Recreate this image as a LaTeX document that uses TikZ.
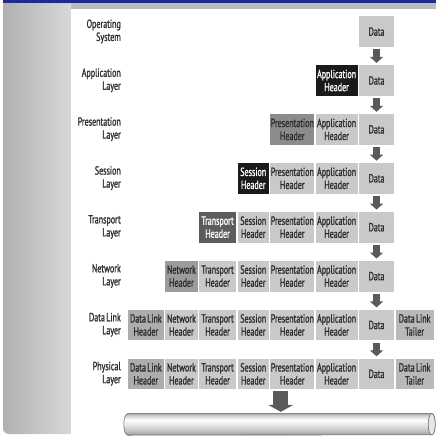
\documentclass[tikz,border=0pt]{standalone}
\usepackage{fontspec}
\setmainfont{PT Sans}[FakeStretch=0.68, FakeBold=1.2, WordSpace=0.6]
\usetikzlibrary{arrows.meta,calc}

\definecolor{navy}{HTML}{1F2C8C}
\definecolor{navyedge}{HTML}{0C1450}
\definecolor{stripgray}{HTML}{BBBBBB}
\definecolor{panelleft}{HTML}{B0B0B0}
\definecolor{panelright}{HTML}{D8D8D8}
\definecolor{cellbg}{HTML}{C9C9C9}
\definecolor{celltxt}{HTML}{2C2C2C}
\definecolor{labeltxt}{HTML}{2E2E2E}
\definecolor{hdrblack}{HTML}{1A1A1A}
\definecolor{hdrmid}{HTML}{8C8C8C}
\definecolor{hdrdark}{HTML}{5C5C5C}
\definecolor{hdrnet}{HTML}{9C9C9C}
\definecolor{hdrdl}{HTML}{ADADAD}
\definecolor{hdrtail}{HTML}{B9B9B9}
\definecolor{arrowgray}{HTML}{5A5A5A}
\definecolor{cabline}{HTML}{6E6E6E}
\definecolor{cabA}{HTML}{8C8C8C}
\definecolor{cabB}{HTML}{B4B4B4}
\definecolor{cabC}{HTML}{DADADA}
\definecolor{cabD}{HTML}{D2D2D2}
\definecolor{cabE}{HTML}{A2A2A2}
\definecolor{cabend}{HTML}{E6E6E6}

% vertical profile of the cable (bottom to top)
\pgfdeclareverticalshading{cableshade}{100bp}{color(0bp)=(cabA); color(25bp)=(cabA);
  color(31bp)=(cabB); color(44bp)=(cabC); color(60bp)=(white); color(70bp)=(cabD);
  color(75bp)=(cabE); color(100bp)=(cabE)}

\tikzset{
  cell/.style={rectangle, inner sep=0pt, minimum height=30.8pt, anchor=north west,
    align=flush center, font=\fontsize{11.8}{13}\selectfont, text=celltxt, fill=cellbg},
  light/.style={fill=cellbg},
  blackhdr/.style={fill=hdrblack, text=white},
  midhdr/.style={fill=hdrmid},
  darkhdr/.style={fill=hdrdark, text=white},
  nethdr/.style={fill=hdrnet},
  dlhdr/.style={fill=hdrdl},
  tailer/.style={fill=hdrtail},
  layerlabel/.style={anchor=east, align=right, inner sep=0pt,
    font=\fontsize{11.8}{13}\selectfont, text=labeltxt},
  downarrow/.style={draw=arrowgray, line width=7pt,
    -{Triangle[width=13pt,length=6pt]}, shorten <=2pt, shorten >=2pt},
  bigarrow/.style={draw=arrowgray, line width=15pt,
    -{Triangle[width=25pt,length=7pt]}, shorten <=1pt, shorten >=1.5pt},
}

\begin{document}
\begin{tikzpicture}[x=1pt,y=-1pt]
\useasboundingbox (0,0) rectangle (436,438);
\fill[white] (0,0) rectangle (436,438);

% frame: title bar, grey strip and shaded side panel
\fill[navy] (3,0) rectangle (436,3.2);
\draw[navyedge, line width=0.6pt] (3,3) -- (436,3);
\fill[stripgray] (3,3.3) rectangle (436,9);
\shade[left color=panelleft, right color=panelright]
  (71,3.3) -- (3,3.3) -- (3,428) arc[start angle=180, end angle=270, radius=6pt]
  -- (71,434) -- cycle;
\fill[white] (71,9) rectangle (436,438);

% layer labels
\foreach \r/\txt in {1/{Operating\\System}, 2/{Application\\Layer},
    3/{Presentation\\Layer}, 4/{Session\\Layer}, 5/{Transport\\Layer},
    6/{Network\\Layer}, 7/{Data Link\\Layer}, 8/{Physical\\Layer}}{
  \node[layerlabel] (l\r) at (121, {16+48.9*(\r-1)+15.4}) {\txt};
}

% encapsulation rows: row r starts at column s with a header of style h
\foreach \r/\s/\h in {1/7/light, 2/6/blackhdr, 3/5/midhdr, 4/4/blackhdr,
    5/3/darkhdr, 6/2/nethdr, 7/1/dlhdr, 8/1/dlhdr}{
  \foreach \c/\x/\w/\txt in {1/127.7/35.9/{Data Link\\Header},
      2/165.0/32.4/{Network\\Header}, 3/198.8/37.2/{Transport\\Header},
      4/237.4/31.3/{Session\\Header}, 5/270.1/44.0/{Presentation\\Header},
      6/315.5/41.8/{Application\\Header}, 7/358.7/35.3/{Data},
      8/395.4/38.0/{Data Link\\Tailer}}{
    \pgfmathtruncatemacro\show{(\c>=\s && \c<8) || (\c==8 && \r>=7) ? 1 : 0}
    \pgfmathtruncatemacro\lead{\c==\s ? 1 : 0}
    \ifnum\show=1
      \ifnum\c=8
        \node[cell, tailer, text width=\w pt] (r\r c\c) at (\x, {16+48.9*(\r-1)}) {\txt};
      \else\ifnum\lead=1
        \node[cell, \h, text width=\w pt] (r\r c\c) at (\x, {16+48.9*(\r-1)}) {\txt};
      \else
        \node[cell, light, text width=\w pt] (r\r c\c) at (\x, {16+48.9*(\r-1)}) {\txt};
      \fi\fi
    \fi
  }
}

% arrows down the data column
\foreach \r in {1,...,7}{
  \pgfmathtruncatemacro\n{\r+1}
  \draw[downarrow] (r\r c7.south) -- (r\n c7.north);
}

% cable
\node[inner sep=0pt, minimum width=311pt, minimum height=21.5pt] (cable) at (279.5,424.25) {};
\path[shading=cableshade, draw=cabline, line width=0.6pt]
  ($(cable.north west)+(4,0)$) -- ($(cable.north east)+(-3.5,0)$)
  arc[start angle=90, end angle=-90, x radius=3.5pt, y radius=10.75pt]
  -- ($(cable.south west)+(4,0)$)
  arc[start angle=270, end angle=90, x radius=4pt, y radius=10.75pt] -- cycle;
\draw[cabline, fill=cabend, line width=0.6pt] ($(cable.east)+(-3.5,0)$)
  ellipse [x radius=3.5pt, y radius=10.75pt];

% frame onto the wire
\coordinate (rowmid) at ($(r8c1.south west)!0.5!(r8c8.south east)$);
\draw[bigarrow] (rowmid) -- (rowmid |- cable.north);
\end{tikzpicture}
\end{document}
